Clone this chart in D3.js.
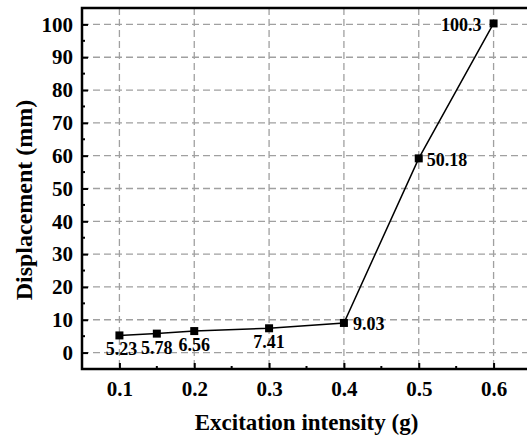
<!DOCTYPE html>
<html>
<head>
<meta charset="utf-8">
<script src="https://cdn.jsdelivr.net/npm/d3@7"></script>
<style>
  body { margin: 0; background: #fff; }
</style>
</head>
<body>
<div id="chart"></div>
<script>
const intensity = [0.1, 0.15, 0.2, 0.3, 0.4, 0.5, 0.6];
const displacement = [5.23, 5.78, 6.56, 7.41, 9.03, 59.18, 100.3];
const pointLabels = ["5.23", "5.78", "6.56", "7.41", "9.03", "50.18", "100.3"];
const xTicks = [0.1, 0.2, 0.3, 0.4, 0.5, 0.6];
const yTicks = [0, 10, 20, 30, 40, 50, 60, 70, 80, 90, 100];

// label offsets relative to each point [dx, dy, anchor]
const labelPos = [
  [2, 20, "middle"], [0, 20, "middle"], [0, 20, "middle"], [0, 20, "middle"],
  [9, 7, "start"], [8, 8, "start"], [-12, 8, "end"]
];

const FONT = "'Liberation Serif', 'Times New Roman', Times, serif";

function drawDisplacementChart(containerId) {
  const margin = { top: 8, right: -4, bottom: 71, left: 82 },
        W = 527, H = 440,
        width = W - margin.left - margin.right,
        height = H - margin.top - margin.bottom;

  const svg = d3.select(`#${containerId}`)
      .append("svg")
          .attr("width", W)
          .attr("height", H)
          .style("font-family", FONT)
      .append("g")
          .attr("transform", `translate(${margin.left},${margin.top})`);

  const x = d3.scaleLinear().domain([0.05, 0.65]).range([0, width]);
  const y = d3.scaleLinear().domain([-5, 105]).range([height, 0]);

  // Grid
  svg.append("g")
      .selectAll("line")
      .data(xTicks)
      .join("line")
          .attr("x1", d => x(d)).attr("x2", d => x(d))
          .attr("y1", 0).attr("y2", height)
          .attr("stroke", "#a0a0a0")
          .attr("stroke-width", 1.3)
          .attr("stroke-dasharray", "7,4");
  svg.append("g")
      .selectAll("line")
      .data(yTicks)
      .join("line")
          .attr("x1", 0).attr("x2", width)
          .attr("y1", d => y(d)).attr("y2", d => y(d))
          .attr("stroke", "#a0a0a0")
          .attr("stroke-width", 1.3)
          .attr("stroke-dasharray", "7,4");

  // Axes (ticks pointing inward)
  const xAxis = svg.append("g")
      .attr("transform", `translate(0,${height})`)
      .call(d3.axisBottom(x).tickValues(xTicks).tickSize(-6).tickPadding(12).tickFormat(d3.format(".1f")));
  const yAxis = svg.append("g")
      .call(d3.axisLeft(y).tickValues(yTicks).tickSize(-6).tickPadding(9));

  [xAxis, yAxis].forEach(a => {
    a.attr("font-family", null).attr("font-size", null);
    a.select(".domain").remove();
    a.selectAll("line").attr("stroke", "#000").attr("stroke-width", 2);
    a.selectAll("text")
        .style("font-family", FONT)
        .style("font-weight", "bold")
        .style("font-size", "21px")
        .attr("fill", "#000");
  });

  // minor ticks
  svg.append("g")
      .selectAll("line")
      .data([0.15, 0.25, 0.35, 0.45, 0.55])
      .join("line")
          .attr("x1", d => x(d)).attr("x2", d => x(d))
          .attr("y1", height).attr("y2", height - 3)
          .attr("stroke", "#000").attr("stroke-width", 2);
  svg.append("g")
      .selectAll("line")
      .data(d3.range(5, 101, 10))
      .join("line")
          .attr("x1", 0).attr("x2", 3)
          .attr("y1", d => y(d)).attr("y2", d => y(d))
          .attr("stroke", "#000").attr("stroke-width", 2);

  // Frame
  svg.append("rect")
      .attr("x", 0).attr("y", 0)
      .attr("width", width).attr("height", height)
      .attr("fill", "none")
      .attr("stroke", "#000")
      .attr("stroke-width", 2.5);

  const data = intensity.map((v, i) => ({ x: v, y: displacement[i], label: pointLabels[i], pos: labelPos[i] }));

  // Line
  svg.append("path")
      .datum(data)
      .attr("fill", "none")
      .attr("stroke", "#000")
      .attr("stroke-width", 1.5)
      .attr("d", d3.line().x(d => x(d.x)).y(d => y(d.y)));

  // Markers
  svg.append("g")
      .selectAll("rect")
      .data(data)
      .join("rect")
          .attr("x", d => x(d.x) - 4)
          .attr("y", d => y(d.y) - 4)
          .attr("width", 8)
          .attr("height", 8)
          .attr("fill", "#000");

  // Point labels
  svg.append("g")
      .selectAll("text")
      .data(data)
      .join("text")
          .attr("x", d => x(d.x) + d.pos[0])
          .attr("y", d => y(d.y) + d.pos[1])
          .attr("text-anchor", d => d.pos[2])
          .style("font-family", FONT)
          .style("font-weight", "bold")
          .style("font-size", "18px")
          .text(d => d.label);

  // Axis titles
  svg.append("text")
      .attr("x", width / 2)
      .attr("y", height + 61)
      .attr("text-anchor", "middle")
      .style("font-family", FONT)
      .style("font-weight", "bold")
      .style("font-size", "23px")
      .text("Excitation intensity (g)");

  svg.append("text")
      .attr("transform", "rotate(-90)")
      .attr("x", -(200 - margin.top))
      .attr("y", -50)
      .attr("text-anchor", "middle")
      .style("font-family", FONT)
      .style("font-weight", "bold")
      .style("font-size", "24px")
      .text("Displacement (mm)");
}

document.addEventListener("DOMContentLoaded", function () {
  drawDisplacementChart("chart");
});
</script>
</body>
</html>
